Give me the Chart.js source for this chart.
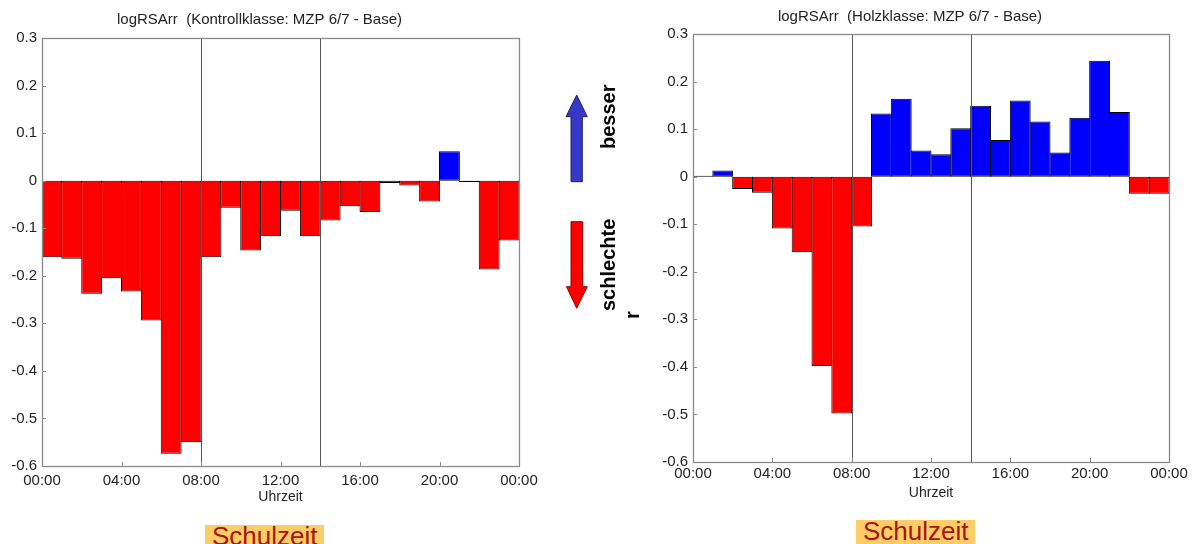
<!DOCTYPE html>
<html><head><meta charset="utf-8">
<script src="https://cdn.jsdelivr.net/npm/chart.js@4.4.1/dist/chart.umd.min.js"></script>
<style>
html,body{margin:0;padding:0;width:1195px;height:544px;overflow:hidden;background:#fff;font-family:'Liberation Sans',Arial,sans-serif;}
#c1{position:absolute;left:0;top:0;}
#c2{position:absolute;left:651px;top:0;}
.sz{position:absolute;background:#ffcc66;color:#a3170f;font-size:26px;line-height:23px;height:30px;white-space:nowrap;}
.rot{position:absolute;transform-origin:0 0;transform:rotate(-90deg);font-weight:bold;font-size:20px;line-height:22px;white-space:nowrap;color:#000;}
#arrows{position:absolute;left:540px;top:80px;}
</style></head><body>
<canvas id="c1" width="561" height="506"></canvas>
<canvas id="c2" width="560" height="502"></canvas>
<svg id="arrows" width="80" height="250" viewBox="540 80 80 250">
  <polygon points="576.7,95 587.3,116.7 582.3,116.7 582.3,181.7 571,181.7 571,116.7 566,116.7" fill="#3838c8" stroke="#20206a" stroke-width="1"/>
  <polygon points="571,221.7 582.7,221.7 582.7,286.7 587.3,286.7 576.7,308.3 566.5,286.7 571,286.7" fill="#ff0000" stroke="#8b0000" stroke-width="1"/>
</svg>
<div class="rot" style="left:597px;top:149px">besser</div>
<div class="rot" style="left:597px;top:311px">schlechte</div>
<div class="rot" style="left:621px;top:319px">r</div>
<div class="sz" style="left:205px;top:525px;padding:0 6px 0 7px;">Schulzeit</div>
<div class="sz" style="left:856px;top:520px;padding:0 6px 0 7px;">Schulzeit</div>
<script>
// ---- data ----
const hours = [0,1,2,3,4,5,6,7,8,9,10,11,12,13,14,15,16,17,18,19,20,21,22,23];
const kontrollValues = [-0.161,-0.164,-0.238,-0.205,-0.233,-0.294,-0.574,-0.550,-0.161,-0.057,-0.147,-0.117,-0.063,-0.117,-0.084,-0.054,-0.066,-0.005,-0.010,-0.044,0.062,-0.003,-0.187,-0.126];
const holzValues = [0.002,0.013,-0.026,-0.034,-0.109,-0.159,-0.398,-0.498,-0.105,0.133,0.164,0.055,0.047,0.102,0.149,0.077,0.160,0.116,0.051,0.124,0.244,0.136,-0.036,-0.036];
const xTickLabels = ['00:00','04:00','08:00','12:00','16:00','20:00','00:00'];
const yTickLabels = ['-0.6','-0.5','-0.4','-0.3','-0.2','-0.1','0','0.1','0.2','0.3'];
const markerHours = [8, 14];
const kontrollTitle = 'logRSArr  (Kontrollklasse: MZP 6/7 - Base)';
const holzTitle = 'logRSArr  (Holzklasse: MZP 6/7 - Base)';
const xAxisTitle = 'Uhrzeit';

const FONT = "'Liberation Sans', Arial, sans-serif";

const framePlugin = {
  id: 'frame',
  afterDatasetsDraw(chart) {
    const {ctx, chartArea: a, scales: {x, y}} = chart;
    ctx.save();
    ctx.lineWidth = 1;
    ctx.strokeStyle = '#555';
    markerHours.forEach(h => {
      const px = Math.round(x.getPixelForValue(h)) + 0.5;
      ctx.beginPath(); ctx.moveTo(px, a.top); ctx.lineTo(px, a.bottom); ctx.stroke();
    });
    ctx.strokeStyle = '#8a8a8a';
    x.ticks.forEach(t => {
      const px = Math.round(x.getPixelForValue(t.value)) + 0.5;
      ctx.beginPath(); ctx.moveTo(px, a.bottom); ctx.lineTo(px, a.bottom - 4); ctx.stroke();
    });
    y.ticks.forEach(t => {
      const py = Math.round(y.getPixelForValue(t.value)) + 0.5;
      ctx.beginPath(); ctx.moveTo(a.left, py); ctx.lineTo(a.left + 4, py); ctx.stroke();
    });
    ctx.lineWidth = 1.3;
    ctx.strokeRect(Math.round(a.left) + 0.5, Math.round(a.top) + 0.5, Math.round(a.right - a.left), Math.round(a.bottom - a.top));
    ctx.restore();
  }
};

function makeChart(id, values, title, titlePad, xAxisHeight, xLabelPad) {
  return new Chart(document.getElementById(id), {
    type: 'bar',
    data: {
      datasets: [{
        data: hours.map((h, i) => ({x: h + 0.5, y: values[i]})),
        backgroundColor: c => (c.raw && c.raw.y >= 0) ? '#0000ff' : '#ff0000',
        borderColor: '#000',
        borderWidth: 1,
        borderSkipped: false,
        barPercentage: 1.05,
        categoryPercentage: 1
      }]
    },
    options: {
      responsive: false,
      animation: false,
      devicePixelRatio: 1,
      layout: {padding: {left: 0, right: 42, top: 0, bottom: 0}},
      plugins: {
        legend: {display: false},
        tooltip: {enabled: false},
        title: {
          display: true, text: title, color: '#222',
          font: {family: FONT, size: 15, weight: 'normal', lineHeight: 1.2},
          padding: titlePad
        }
      },
      scales: {
        x: {
          type: 'linear', min: 0, max: 24, offset: false,
          grid: {display: false, drawTicks: false, offset: false},
          border: {display: false},
          ticks: {stepSize: 4, padding: xLabelPad, color: '#222', maxRotation: 0, autoSkip: false,
                  font: {family: FONT, size: 15},
                  callback: (v, i) => xTickLabels[i]},
          title: {display: true, text: xAxisTitle, color: '#222', padding: {top: 0, bottom: 0},
                  font: {family: FONT, size: 14, lineHeight: 1.2}},
          afterFit: s => { s.height = xAxisHeight; s.paddingLeft = 0; s.paddingRight = 0; }
        },
        y: {
          min: -0.6, max: 0.3,
          grid: {display: false, drawTicks: false},
          border: {display: false},
          ticks: {stepSize: 0.1, padding: 5, color: '#222', font: {family: FONT, size: 15},
                  callback: (v, i) => yTickLabels[i]},
          afterFit: s => { s.width = 42; s.paddingTop = 0; s.paddingBottom = 0; }
        }
      }
    },
    plugins: [framePlugin]
  });
}

makeChart('c1', kontrollValues, kontrollTitle, {top: 11, bottom: 9}, 40, 6);
makeChart('c2', holzValues, holzTitle, {top: 8, bottom: 8}, 40, 3);
</script>
</body></html>
